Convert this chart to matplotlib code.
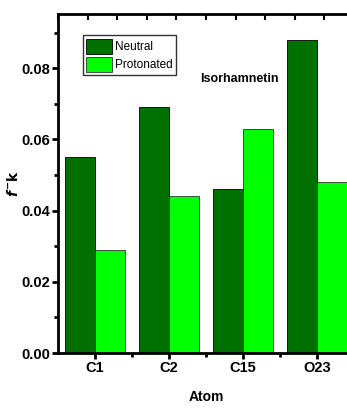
import matplotlib
matplotlib.use('Agg')
import matplotlib.pyplot as plt
import numpy as np

atoms = ['C1', 'C2', 'C15', 'O23']
neutral = [0.055, 0.069, 0.046, 0.088]
protonated = [0.029, 0.044, 0.063, 0.048]

plt.rcParams['font.family'] = ['Liberation Sans', 'DejaVu Sans']
plt.rcParams['font.weight'] = 'bold'

fig = plt.figure(figsize=(3.47, 4.13), dpi=100)
ax = fig.add_axes([0.167, 0.145, 0.853, 0.821])

x = np.arange(1, len(atoms) + 1)
w = 0.4
ax.bar(x - w/2, neutral, w, color='#007000', edgecolor='black', linewidth=0.6, label='Neutral')
ax.bar(x + w/2, protonated, w, color='#00ff00', edgecolor='#333333', linewidth=0.6, label='Protonated')

ax.set_xlim(0.5, 4.5)
ax.set_ylim(0, 0.0952)
ax.set_xticks(x)
ax.set_xticklabels(atoms, fontsize=10.5, fontweight='bold')
ax.set_xticks([1.5, 2.5, 3.5], minor=True)
ax.set_yticks([0, 0.02, 0.04, 0.06, 0.08])
ax.set_yticklabels(['0.00', '0.02', '0.04', '0.06', '0.08'], fontsize=10.5, fontweight='bold')
ax.set_yticks([0.01, 0.03, 0.05, 0.07, 0.09], minor=True)
ax.tick_params(axis='both', which='both', direction='out', width=2, pad=1.5)
ax.tick_params(axis='both', which='major', length=4)
ax.tick_params(axis='both', which='minor', length=3)
ax.tick_params(axis='x', which='both', top=False)

for s in ax.spines.values():
    s.set_linewidth(2)

# top ticks drawn inward
top = ax.secondary_xaxis('top')
top.set_xticks(np.arange(0.5, 4.6, 0.4))
top.set_xticklabels([])
top.tick_params(direction='in', length=4, width=1.5)

ax.set_xlabel('Atom', fontsize=10, fontweight='bold', labelpad=11)
ax.set_ylabel(r'$f^{-}\mathbf{k}$', fontsize=10, labelpad=0)

ax.legend(loc='upper left', bbox_to_anchor=(0.084, 0.938), frameon=True,
          fancybox=False, edgecolor='black', handlelength=2.2, handleheight=1.6,
          handletextpad=0.25, borderpad=0.3, labelspacing=0.25, borderaxespad=0,
          prop={'weight': 'normal', 'size': 8.5})
ax.text(0.482, 0.80, 'Isorhamnetin', transform=ax.transAxes, fontsize=9, fontweight='bold')

fig.savefig('out.png', dpi=100)
